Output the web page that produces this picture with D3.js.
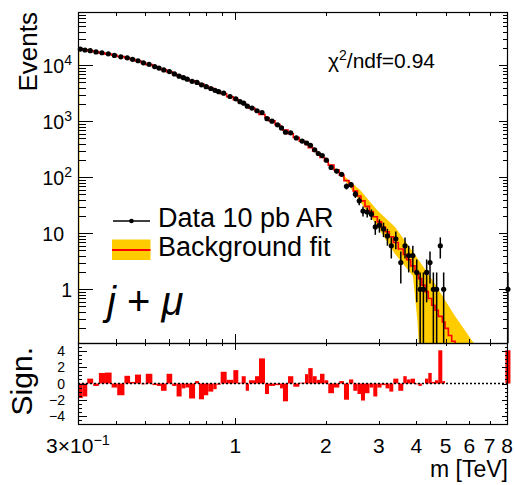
<!DOCTYPE html>
<html lang="en">
<head>
<meta charset="UTF-8">
<script src="https://d3js.org/d3.v7.min.js"></script>
<style>
    body {margin: 0; background: #fff;}
    svg {display: block; font-family: "Liberation Sans", Arial, Helvetica, sans-serif;}
    .tick line {stroke: #000; shape-rendering: crispEdges;}
</style>
</head>
<body>
<svg id="chart" width="515" height="485"></svg>
<script>
// mass bin edges [TeV]
const massEdges = [0.300, 0.311, 0.322, 0.337, 0.352, 0.369, 0.388, 0.405, 0.428, 0.447,
    0.464, 0.486, 0.504, 0.530, 0.549, 0.566, 0.591, 0.617, 0.638, 0.663,
    0.682, 0.702, 0.735, 0.757, 0.787, 0.813, 0.845, 0.867, 0.894, 0.936,
    0.985, 1.023, 1.050, 1.083, 1.110, 1.163, 1.199, 1.255, 1.294, 1.355,
    1.408, 1.440, 1.497, 1.559, 1.632, 1.705, 1.748, 1.808, 1.864, 1.912,
    1.979, 2.037, 2.128, 2.216, 2.297, 2.387, 2.467, 2.547, 2.617, 2.698,
    2.792, 2.875, 2.965, 3.062, 3.157, 3.250, 3.351, 3.482, 3.617, 3.713,
    3.828, 3.956, 4.064, 4.168, 4.271, 4.380, 4.496, 4.611, 4.729, 4.876,
    4.978, 5.107, 5.240, 5.377, 7.903, 8.213];

// events per bin
const dataCounts = [19457, 18780, 18241, 17300, 16747, 16020, 15029, 14186, 13610, 12773,
    12050, 11069, 10412, 9499, 8922, 8262, 7728, 7026, 6394, 6008,
    5656, 5174, 4952, 4485, 4157, 3853, 3580, 3383, 3179, 2774,
    2523, 2243, 2104, 1860, 1723, 1544, 1436, 1115, 1006, 867,
    761, 639, 622, 505, 443, 410, 374, 309, 266, 244,
    202, 150, 129, 113, 69, 74, 50, 38, 25, 24,
    22, 13, 14, 12, 9, 6, 8, 3, 6, 4,
    4, 2, 1, 1, 2, 3, 1, 1, 6, 1,
    0, 0, 0, 0, 1];

// background fit per bin
const fitCounts = [19710, 19000, 18160, 17340, 16580, 15850, 15090, 14360, 13500, 12750,
    11930, 11080, 10290, 9519, 8950, 8344, 7623, 7051, 6523, 6055,
    5694, 5309, 4931, 4618, 4252, 3916, 3622, 3392, 3098, 2750,
    2441, 2238, 2063, 1899, 1706, 1509, 1323, 1159, 1016, 873,
    778, 697, 600, 514, 441, 387, 339, 294, 259, 226,
    196, 165, 135, 110, 87.3, 69.7, 56.7, 46.5, 37.9, 30.3,
    24.1, 19.7, 16.0, 12.97, 10.64, 8.69, 6.85, 5.24, 4.19, 3.38,
    2.62, 2.05, 1.55, 1.19, 0.911, 0.684, 0.519, 0.424, 0.329, 0.261,
    0.201, 0.150, 0.118, 0.015, 0.004];

// significance per bin
const significance = [-1.8, -1.6, 0.6, -0.3, 1.3, 1.35, -0.5, -1.45, 0.95, 0.2,
    1.1, -0.1, 1.2, -0.2, -0.3, -0.9, 1.2, -0.3, -1.6, -0.6,
    -0.5, -1.85, 0.3, -1.95, -1.45, -1.0, -0.7, -0.15, 1.45, 0.45,
    1.65, 0.1, 0.9, -0.9, 0.4, 0.9, 3.1, -1.3, -0.3, -0.2,
    -0.6, -2.2, 0.9, -0.4, 0.1, 1.15, 1.9, 0.9, 0.45, 1.2,
    0.4, -1.2, -0.5, 0.3, -2.0, 0.5, -0.9, -1.3, -2.1, -1.2,
    -0.5, -1.6, -0.5, -0.2, -0.6, -1.0, 0.6, -0.9, 0.9, 0.5,
    0.6, -0.1, -0.3, 0, 0.6, 1.3, 0.2, 0.4, 4.1, 0.3,
    0, 0, 0, 0, 4.1];

// fit uncertainty band
const bandMass = [2.002, 2.228, 2.369, 2.598, 2.958, 3.395, 3.896, 4.033, 4.142, 4.541, 5.373, 6.167, 6.507];
const bandHigh = [201.2, 122.9, 91.3, 59.3, 26.1, 12.96, 4.64, 3.55, 2.89, 1.41, 0.334, 0.1145, 0.0759];
const bandLow = [196.3, 116.0, 74.4, 37.0, 13.5, 4.27, 1.73, 0.261, 0.024, 0.005, 0.003, 0.002, 0.001];

// tick labels
const yTickValues = [1, 10, 100, 1000, 10000];
const yTickBase = ['1', '10', '10', '10', '10'];
const yTickExp = ['', '', '2', '3', '4'];
const xTickValues = [0.3, 1, 2, 3, 4, 5, 6, 7, 8];
const xTickBase = ['3\u00d710', '1', '2', '3', '4', '5', '6', '7', '8'];
const xTickExp = ['\u22121', '', '', '', '', '', '', '', ''];
const sigTickValues = [-4, -2, 0, 2, 4];
const sigTickLabels = ['\u22124', '\u22122', '0', '2', '4'];

const padL = 78, padR = 507, padT = 12, padM = 343, padB = 424;
const svg = d3.select('#chart');
svg.append('rect').attr('width', 515).attr('height', 485).attr('fill', '#fff');

const x = d3.scaleLog().domain([0.3, 8.0]).range([padL, padR]);
const y = d3.scaleLog().domain([0.110, 89500]).range([padM, padT]);
const ys = d3.scaleLinear().domain([-5, 5]).range([padB, padM]);

const bins = dataCounts.map((n, i) => ({
    lo: massEdges[i], hi: massEdges[i + 1], n: n, fit: fitCounts[i], sig: significance[i]
}));

const defs = svg.append('defs');
defs.append('clipPath').attr('id', 'clipTop').append('rect')
    .attr('x', padL).attr('y', padT).attr('width', padR - padL).attr('height', padM - padT);
defs.append('clipPath').attr('id', 'clipBot').append('rect')
    .attr('x', padL).attr('y', padM).attr('width', padR - padL + 5).attr('height', padB - padM);

// ---- top panel
var gTop = svg.append('g').attr('clip-path', 'url(#clipTop)');

gTop.append('path')
    .attr('d', d3.area()
        .x((d, i) => x(bandMass[i]))
        .y0((d, i) => y(bandLow[i]))
        .y1((d, i) => y(bandHigh[i]))(bandMass))
    .attr('fill', '#ffcc00');

gTop.append('line')
    .attr('x1', padL + 1.5).attr('x2', padL + 1.5)
    .attr('y1', y(fitCounts[0])).attr('y2', padM)
    .attr('stroke', '#ffcc00').attr('stroke-opacity', 0.45);

var fitPts = [];
bins.forEach(b => { fitPts.push([x(b.lo), y(b.fit)], [x(b.hi), y(b.fit)]); });
gTop.append('path').attr('d', d3.line()(fitPts))
    .attr('fill', 'none').attr('stroke', '#ff0000').attr('stroke-width', 1.6);

var pts = bins.filter(b => b.n > 0);
var gData = svg.append('g');
gData.selectAll('line.err').data(pts).enter().append('line')
    .attr('x1', d => x(Math.sqrt(d.lo * d.hi))).attr('x2', d => x(Math.sqrt(d.lo * d.hi)))
    .attr('y1', d => Math.min(padM, y(Math.max(d.n - Math.sqrt(d.n), 0.01))))
    .attr('y2', d => y(d.n + Math.sqrt(d.n)))
    .attr('stroke', '#000').attr('stroke-width', 1.5);
gData.selectAll('circle').data(pts).enter().append('circle')
    .attr('cx', d => x(Math.sqrt(d.lo * d.hi))).attr('cy', d => y(d.n))
    .attr('r', 2.6).attr('fill', '#000');

// ---- bottom panel
var gBot = svg.append('g').attr('clip-path', 'url(#clipBot)');
gBot.selectAll('rect').data(bins).enter().append('rect')
    .attr('x', d => x(d.lo))
    .attr('width', d => x(d.hi) - x(d.lo))
    .attr('y', d => Math.min(ys(0), ys(d.sig)))
    .attr('height', d => Math.abs(ys(d.sig) - ys(0)))
    .attr('fill', '#ff0000');
svg.append('line')
    .attr('x1', padL).attr('x2', padR).attr('y1', ys(0)).attr('y2', ys(0))
    .attr('stroke', '#000').attr('stroke-width', 1.5).attr('stroke-dasharray', '2,2');

// ---- ticks
const yMajor = yTickValues.concat([]);
const yMinor = [];
[-1, 0, 1, 2, 3, 4].forEach(e => d3.range(2, 10).forEach(k => {
    var v = k * Math.pow(10, e);
    if (v > 0.110 && v < 89500) yMinor.push(v);
}));
const xMajor = [1];
const xMinor = [0.4, 0.5, 0.6, 0.7, 0.8, 0.9, 2, 3, 4, 5, 6, 7];
const sMinor = d3.range(-4.5, 5, 0.5).filter(v => v % 2 !== 0);

function ticks(tx, ty, axis, values, size) {
    svg.append('g').attr('transform', 'translate(' + tx + ',' + ty + ')')
        .call(axis.tickValues(values).tickSize(size).tickSizeOuter(0).tickFormat(''))
        .call(g => g.select('.domain').remove());
}
ticks(padL, 0, d3.axisLeft(y), yMajor, -15);
ticks(padL, 0, d3.axisLeft(y), yMinor, -8);
ticks(padR, 0, d3.axisRight(y), yMajor, -8);
ticks(padR, 0, d3.axisRight(y), yMinor, -4);
ticks(0, padT, d3.axisTop(x), xMajor, -8);
ticks(0, padT, d3.axisTop(x), xMinor, -4);
ticks(0, padM, d3.axisBottom(x), xMajor, -9);
ticks(0, padM, d3.axisBottom(x), xMinor, -4);
ticks(0, padM, d3.axisTop(x), xMajor, -7);
ticks(0, padM, d3.axisTop(x), xMinor, -3);
ticks(0, padB, d3.axisBottom(x), xMajor, -6);
ticks(0, padB, d3.axisBottom(x), xMinor, -3);
ticks(padL, 0, d3.axisLeft(ys), sigTickValues, -9);
ticks(padL, 0, d3.axisLeft(ys), sMinor, -4);
ticks(padR, 0, d3.axisRight(ys), sigTickValues, -5);
ticks(padR, 0, d3.axisRight(ys), sMinor, -2.5);

// frames
[[padT, padM], [padM, padB]].forEach(p => {
    svg.append('rect').attr('x', padL + 0.5).attr('y', p[0] + 0.5)
        .attr('width', padR - padL).attr('height', p[1] - p[0])
        .attr('fill', 'none').attr('stroke', '#000').attr('stroke-width', 1.2);
});

// ---- labels
yTickValues.forEach((v, i) => {
    var t = svg.append('text')
        .attr('x', (yTickBase[i] === '10' && !yTickExp[i]) ? 64 : 72)
        .attr('y', y(v) + 7.5)
        .attr('text-anchor', 'end').attr('font-size', 19.5).text(yTickBase[i]);
    if (yTickExp[i]) t.append('tspan').attr('dy', -8).attr('font-size', 14).text(yTickExp[i]);
});
xTickValues.forEach((v, i) => {
    var t = svg.append('text').attr('x', x(v)).attr('y', 453)
        .attr('text-anchor', 'middle').attr('font-size', 21).text(xTickBase[i]);
    if (xTickExp[i]) t.append('tspan').attr('dy', -8).attr('font-size', 14.5).text(xTickExp[i]);
});
sigTickValues.forEach((v, i) => {
    svg.append('text').attr('x', 65).attr('y', ys(v) + 5)
        .attr('text-anchor', 'end').attr('font-size', 14).text(sigTickLabels[i]);
});

svg.append('text').attr('transform', 'translate(37,' + padT + ') rotate(-90)')
    .attr('text-anchor', 'end').attr('font-size', 26).text('Events');
svg.append('text').attr('transform', 'translate(32,347) rotate(-90)')
    .attr('text-anchor', 'end').attr('font-size', 30).text('Sign.');
svg.append('text').attr('x', 508).attr('y', 477)
    .attr('text-anchor', 'end').attr('font-size', 23).text('m [TeV]');

var chi = svg.append('text').attr('x', 328).attr('y', 68).attr('font-size', 21).text('\u03c7');
chi.append('tspan').attr('dy', -8).attr('font-size', 14).text('2');
chi.append('tspan').attr('dy', 8).text('/ndf=0.94');

// legend
svg.append('line').attr('x1', 113).attr('x2', 150).attr('y1', 221).attr('y2', 221)
    .attr('stroke', '#000').attr('stroke-width', 1.5);
svg.append('circle').attr('cx', 131.5).attr('cy', 221).attr('r', 2.3).attr('fill', '#000');
svg.append('text').attr('x', 158).attr('y', 227).attr('font-size', 27).text('Data 10 pb AR');
svg.append('rect').attr('x', 112).attr('y', 239.5).attr('width', 38.5).attr('height', 20.5).attr('fill', '#ffcc00');
svg.append('line').attr('x1', 112).attr('x2', 150.5).attr('y1', 250).attr('y2', 250)
    .attr('stroke', '#ff0000').attr('stroke-width', 2);
svg.append('text').attr('x', 158).attr('y', 256).attr('font-size', 27).text('Background fit');

var jm = svg.append('text').attr('x', 107).attr('y', 315).attr('font-size', 40);
jm.append('tspan').attr('font-style', 'italic').text('j');
jm.append('tspan').text(' + ');
jm.append('tspan').attr('font-style', 'italic').text('\u03bc');
</script>
</body>
</html>
